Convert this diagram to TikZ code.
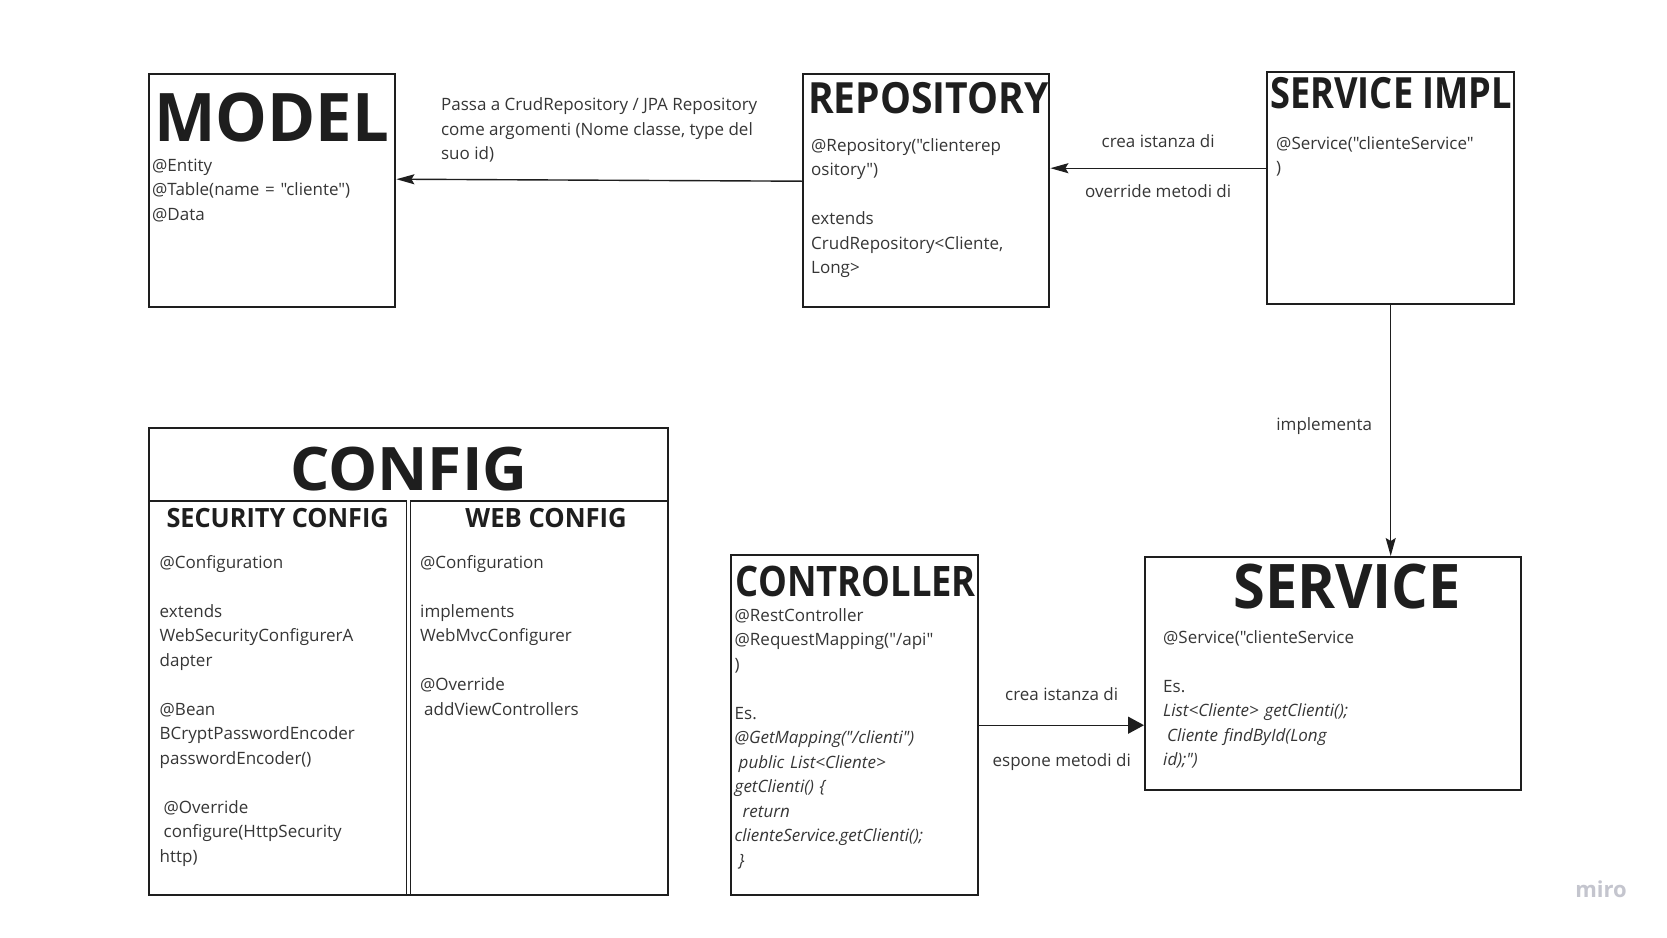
\documentclass[tikz,border=0pt]{standalone}
\usepackage{graphicx}
\usepackage{fontspec}
\setmainfont{Open Sans}[Ligatures=TeXOff]
\usetikzlibrary{arrows.meta,positioning,calc}

\definecolor{inkdark}{HTML}{1E1E1E}
\definecolor{inkbody}{HTML}{363636}
\definecolor{mirogray}{HTML}{C4C5CE}

\begin{document}
\begin{tikzpicture}[
    x=1pt, y=-1pt,
    box/.style={rectangle, draw=inkdark, line width=2.4pt, anchor=north west, inner sep=0pt},
    subbox/.style={box, line width=1.7pt},
    title/.style={font=\bfseries\fontsize{#1}{#1}\selectfont, text=inkdark, inner sep=0pt, anchor=base west},
    body/.style={font=\fontsize{17}{24.5}\selectfont, text=inkbody, inner sep=0pt, anchor=base west, align=left, text width=240pt},
    lbl/.style={font=\fontsize{17}{24.5}\selectfont, text=inkbody, inner sep=0pt, anchor=base},
    arrow/.style={-{Stealth[length=18pt,width=10pt,inset=3pt]}, line width=1.4pt, draw=inkdark},
    arrowfill/.style={-{Triangle[length=16pt,width=17pt]}, line width=1.4pt, draw=inkdark}
]
\fill[white] (0,0) rectangle (1667,937);
\useasboundingbox (0,0) rectangle (1667,937);

% top row
\node[box, minimum width=246pt, minimum height=233pt] (model) at (148,73) {};
\node[box, minimum width=246pt, minimum height=233pt] (repo) at (802,73) {};
\node[box, minimum width=247pt, minimum height=232pt] (simpl) at (1266,71) {};

\node[title=67] (modelt) at ($(model.north west)+(6,68)$) {\scalebox{0.973}[1]{MODEL}};
\node[body] (modelb) at ($(model.north west)+(4,98)$) {@Entity\\@Table(name = "cliente")\\@Data};

\node[title=43] (repot) at ($(repo.north west)+(6,40)$) {\scalebox{0.907}[1]{REPOSITORY}};
\node[body] (repob) at ($(repo.north west)+(9,78)$) {@Repository("clienterep\\ository")\\[24.5pt]extends\\CrudRepository<Cliente,\\Long>};

\node[title=43] (simplt) at ($(simpl.north west)+(4,37.5)$) {\scalebox{0.843}[1]{SERVICE IMPL}};
\node[body] (simplb) at ($(simpl.north west)+(10,78)$) {@Service("clienteService"\\)};

% config
\node[subbox, minimum width=257.5pt, minimum height=394pt] (secu) at (148,500) {};
\node[subbox, minimum width=257.5pt, minimum height=394pt] (web) at (409.5,500) {};
\node[box, minimum width=519pt, minimum height=467pt] (config) at (148,427) {};

\node[title=60, anchor=base] (configt) at ($(config.north)+(0,63)$) {\scalebox{1.033}[1]{CONFIG}};
\node[title=26.5, anchor=base] (secut) at ($(secu.north)+(0,27)$) {\scalebox{0.954}[1]{SECURITY CONFIG}};
\node[title=26.5, anchor=base] (webt) at ($(web.north)+(7,27)$) {\scalebox{0.968}[1]{WEB CONFIG}};

\node[body] (secub) at ($(secu.north west)+(11.5,68)$) {@Configuration\\[24.5pt]extends\\WebSecurityConfigurerA\\dapter\\[24.5pt]@Bean\\BCryptPasswordEncoder\\passwordEncoder()\\[24.5pt]\hspace*{4pt}@Override\\\hspace*{4pt}configure(HttpSecurity\\http)};
\node[body] (webb) at ($(web.north west)+(10.5,68)$) {@Configuration\\[24.5pt]implements\\WebMvcConfigurer\\[24.5pt]@Override\\\hspace*{4pt}addViewControllers};

% bottom right
\node[box, minimum width=247pt, minimum height=340pt] (ctrl) at (730,554) {};
\node[box, minimum width=376pt, minimum height=233pt] (serv) at (1144,556) {};

\node[title=42] (ctrlt) at ($(ctrl.north west)+(5.5,42)$) {\scalebox{0.865}[1]{CONTROLLER}};
\node[body] (ctrlb) at ($(ctrl.north west)+(4.5,67)$) {@RestController\\@RequestMapping("/api"\\)\\[24.5pt]Es.\\\itshape @GetMapping("/clienti")\\\itshape\hspace*{4pt}public List<Cliente>\\\itshape getClienti() \{\\\itshape\hspace*{8pt}return\\\itshape clienteService.getClienti();\\\itshape\hspace*{4pt}\}};

\node[title=61.5] (servt) at ($(serv.north west)+(89,52)$) {\scalebox{0.938}[1]{SERVICE}};
\node[body] (servb) at ($(serv.north west)+(19,87)$) {@Service("clienteService\\[24.5pt]Es.\\\itshape List<Cliente> getClienti();\\\itshape\hspace*{4pt}Cliente findById(Long\\\itshape id);")};

% connectors
\draw[arrow] ([yshift=9.5pt]repo.west) -- ([yshift=11.5pt]model.east)
    node[midway, lbl, anchor=south, align=left, yshift=17pt] (passa) {Passa a CrudRepository / JPA Repository\\come argomenti (Nome classe, type del\\suo id)};
\draw[arrow] ([yshift=20pt]simpl.west) -- ([yshift=20pt]simpl.west -| repo.east)
    node[midway, lbl, yshift=21pt] (crea1) {crea istanza di}
    node[midway, lbl, yshift=-29.5pt] (over) {override metodi di};
\draw[arrow] (simpl.south) -- (simpl.south |- serv.north)
    node[midway, lbl, anchor=base east, xshift=-18pt] (impl) {implementa};
\draw[arrowfill] (ctrl.east) -- (ctrl.east -| serv.west)
    node[midway, lbl, yshift=24.5pt] (crea2) {crea istanza di}
    node[midway, lbl, yshift=-41.5pt] (espone) {espone metodi di};

\node[font=\bfseries\fontsize{22}{22}\selectfont, text=mirogray, inner sep=0pt] (miro) at (1601,889) {miro};
\end{tikzpicture}
\end{document}
